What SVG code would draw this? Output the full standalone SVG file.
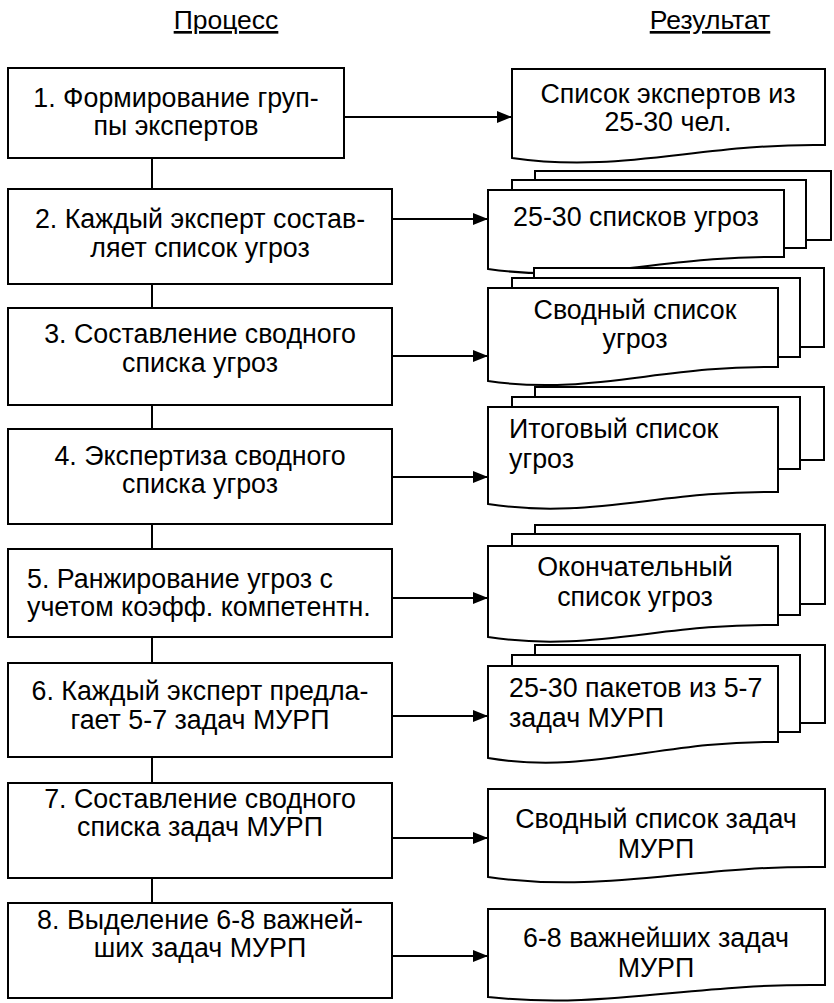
<svg xmlns="http://www.w3.org/2000/svg" width="834" height="1003" viewBox="0 0 834 1003">
<style>
.box{fill:#fff;stroke:#000;stroke-width:2}
.pg{fill:#fff;stroke:#000;stroke-width:2;stroke-linejoin:miter}
.t{font-family:"Liberation Sans",Arial,sans-serif;font-size:26.8px;fill:#000}
.c{text-anchor:middle}
.h{font-family:"Liberation Sans",Arial,sans-serif;font-size:26.5px;fill:#000;text-anchor:middle;text-decoration:underline}
.ln{stroke:#000;stroke-width:2;fill:none}
.ar{stroke:#000;stroke-width:2;fill:none;marker-end:url(#ah)}
</style>
<defs>
<marker id="ah" markerUnits="userSpaceOnUse" markerWidth="16" markerHeight="13" refX="15" refY="6" orient="auto">
<path d="M0,0 L15,6 L0,12 Z" fill="#000"/>
</marker>
</defs>
<rect width="834" height="1003" fill="#fff"/>
<text class="h" x="226" y="29">Процесс</text>
<text class="h" x="710" y="29">Результат</text>

<g id="connectors">
<line class="ln" x1="152" y1="158" x2="152" y2="189"/>
<line class="ln" x1="152" y1="284" x2="152" y2="308"/>
<line class="ln" x1="152" y1="405" x2="152" y2="429"/>
<line class="ln" x1="152" y1="524" x2="152" y2="549"/>
<line class="ln" x1="152" y1="637" x2="152" y2="663"/>
<line class="ln" x1="152" y1="757" x2="152" y2="783"/>
<line class="ln" x1="152" y1="878" x2="152" y2="903"/>
<line class="ar" x1="344" y1="117" x2="512" y2="117"/>
<line class="ar" x1="392" y1="219" x2="488" y2="219"/>
<line class="ar" x1="392" y1="356" x2="488" y2="356"/>
<line class="ar" x1="392" y1="477" x2="488" y2="477"/>
<line class="ar" x1="392" y1="598" x2="488" y2="598"/>
<line class="ar" x1="392" y1="716" x2="488" y2="716"/>
<line class="ar" x1="392" y1="838" x2="488" y2="838"/>
<line class="ar" x1="392" y1="956" x2="488" y2="956"/>
</g>

<g id="p1"><rect class="box" x="8" y="68" width="336" height="90"/>
<text class="t c" x="176" y="107">1. Формирование груп-</text><text class="t c" x="176" y="135">пы экспертов</text></g>
<g id="p2"><rect class="box" x="8" y="189" width="384" height="95"/>
<text class="t c" x="200" y="228">2. Каждый эксперт состав-</text><text class="t c" x="200" y="257">ляет список угроз</text></g>
<g id="p3"><rect class="box" x="8" y="308" width="384" height="97"/>
<text class="t c" x="200" y="343">3. Составление сводного</text><text class="t c" x="200" y="372">списка угроз</text></g>
<g id="p4"><rect class="box" x="8" y="429" width="384" height="95"/>
<text class="t c" x="200" y="465">4. Экспертиза сводного</text><text class="t c" x="200" y="493">списка угроз</text></g>
<g id="p5"><rect class="box" x="8" y="549" width="384" height="88"/>
<text class="t" x="27" y="588">5. Ранжирование угроз с</text><text class="t" x="27" y="616">учетом коэфф. компетентн.</text></g>
<g id="p6"><rect class="box" x="8" y="663" width="384" height="94"/>
<text class="t c" x="200" y="700">6. Каждый эксперт предла-</text><text class="t c" x="200" y="729">гает 5-7 задач МУРП</text></g>
<g id="p7"><rect class="box" x="8" y="783" width="384" height="95"/>
<text class="t c" x="200" y="808">7. Составление сводного</text><text class="t c" x="200" y="836">списка задач МУРП</text></g>
<g id="p8"><rect class="box" x="8" y="903" width="384" height="95"/>
<text class="t c" x="200" y="929">8. Выделение 6-8 важней-</text><text class="t c" x="200" y="957">ших задач МУРП</text></g>

<g id="r1"><path class="pg" d="M512,69 H825 V145 C700,143 621,174 512,158 Z"/>
<text class="t c" x="668" y="103">Список экспертов из</text><text class="t c" x="668" y="131">25-30 чел.</text></g>

<g id="r2"><rect class="pg" x="535" y="171" width="296" height="69"/>
<rect class="pg" x="512" y="180" width="294" height="68"/>
<path class="pg" d="M488,190 H784 V257 C666,255 592,284 488,269 Z"/>
<text class="t c" x="636" y="226">25-30 списков угроз</text></g>

<g id="r3"><rect class="pg" x="534" y="268" width="290" height="79"/>
<rect class="pg" x="512" y="278" width="288" height="79"/>
<path class="pg" d="M488,288 H778 V367 C662,365 590,396 488,381 Z"/>
<text class="t c" x="635" y="319">Сводный список</text><text class="t c" x="635" y="348">угроз</text></g>

<g id="r4"><rect class="pg" x="535" y="387" width="289" height="73"/>
<rect class="pg" x="512" y="397" width="288" height="72"/>
<path class="pg" d="M488,407 H778 V492 C662,490 590,520 488,504 Z"/>
<text class="t" x="509" y="438">Итоговый список</text><text class="t" x="509" y="468">угроз</text></g>

<g id="r5"><rect class="pg" x="535" y="525" width="290" height="79"/>
<rect class="pg" x="512" y="534" width="288" height="81"/>
<path class="pg" d="M488,546 H778 V625 C662,623 590,653 488,637 Z"/>
<text class="t c" x="635" y="576">Окончательный</text><text class="t c" x="635" y="606">список угроз</text></g>

<g id="r6"><rect class="pg" x="535" y="645" width="290" height="78"/>
<rect class="pg" x="512" y="655" width="288" height="77"/>
<path class="pg" d="M488,666 H778 V742 C662,740 590,775 488,758 Z"/>
<text class="t" x="509" y="697">25-30 пакетов из 5-7</text><text class="t" x="509" y="727">задач МУРП</text></g>

<g id="r7"><path class="pg" d="M488,789 H825 V867 C690,865 606,894 488,877 Z"/>
<text class="t c" x="656" y="828">Сводный список задач</text><text class="t c" x="656" y="858">МУРП</text></g>

<g id="r8"><path class="pg" d="M488,909 H825 V985 C690,983 606,1010 488,997 Z"/>
<text class="t c" x="656" y="947">6-8 важнейших задач</text><text class="t c" x="656" y="977">МУРП</text></g>
</svg>
